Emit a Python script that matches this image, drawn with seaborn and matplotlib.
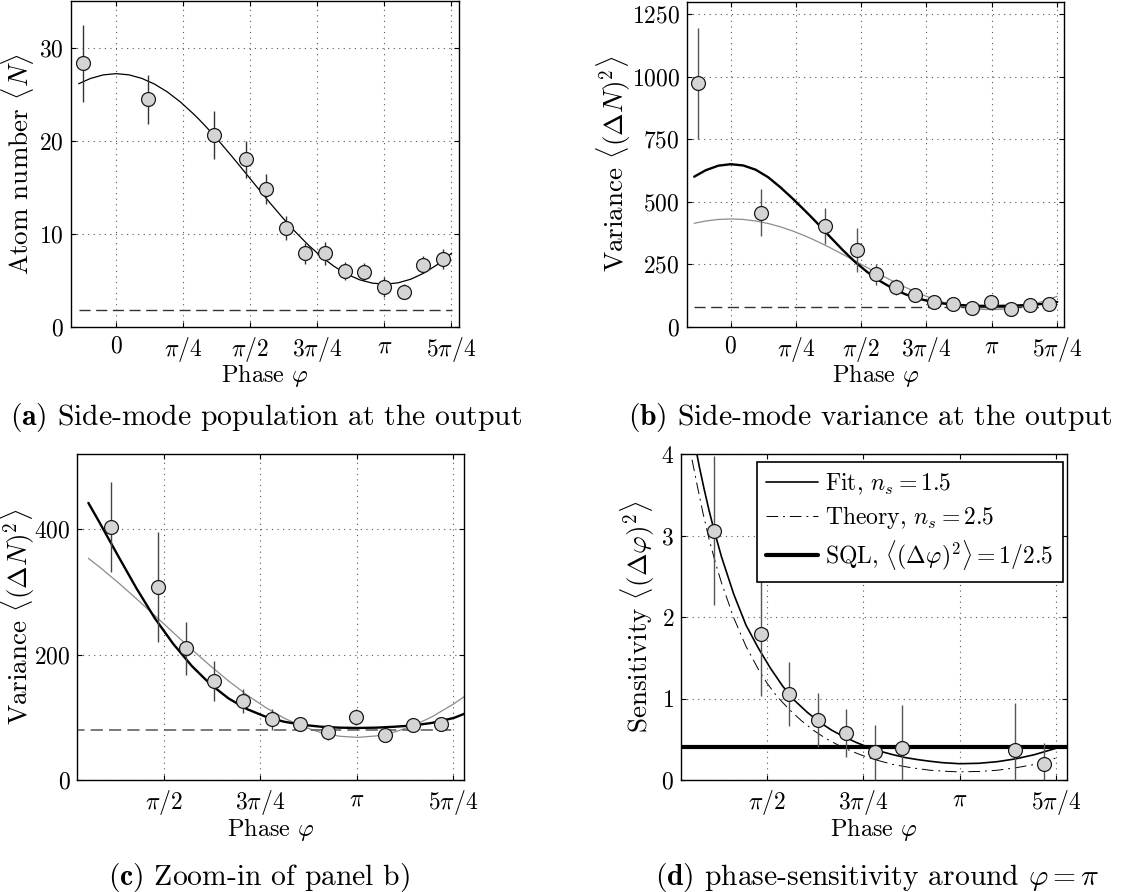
import numpy as np
import pandas as pd
import matplotlib
matplotlib.use("Agg")
import matplotlib.pyplot as plt
import seaborn as sns

# ---------------- data ----------------
PI = np.pi
phase = [-0.395, 0.37, 1.14, 1.522, 1.754, 1.984, 2.214, 2.449, 2.676, 2.908,
         3.137, 3.368, 3.597, 3.827]

atoms = [28.3, 24.45, 20.6, 18.0, 14.8, 10.6, 7.9, 7.9, 6.0, 5.9, 4.3, 3.8, 6.7, 7.3]
atoms_err = [4.1, 2.65, 2.6, 2.0, 1.6, 1.3, 1.1, 1.2, 0.95, 1.0, 1.1, 0.8, 0.95, 1.1]

variance = [973, 456, 403, 308, 210, 158, 126, 97, 89, 76, 100, 71, 88, 89]
variance_err = [221, 94, 72, 88, 42, 32, 19, 17, 11, 12, 13, 10.5, 11.5, 11]

sens_phase = [1.14, 1.522, 1.754, 1.984, 2.214, 2.449, 2.676, 3.597, 3.827]
sens = [3.06, 1.79, 1.055, 0.74, 0.577, 0.34, 0.39, 0.37, 0.20]
sens_err = [0.91, 0.76, 0.39, 0.33, 0.29, 0.34, 0.53, 0.58, 0.26]

# fitted / model curves
curve_phase = [-0.44, -0.3, -0.15, 0.0, 0.15, 0.3, 0.45, 0.6, 0.75, 0.9, 0.96, 1.05,
               1.2, 1.35, 1.5, 1.65, 1.8, 1.95, 2.1, 2.25, 2.4, 2.55, 2.7, 2.85,
               3.0, 3.15, 3.3, 3.45, 3.6, 3.75, 3.93, 4.02]
atoms_fit = [26.12, 26.69, 27.07, 27.20, 27.07, 26.69, 26.07, 25.23, 24.17, 22.92,
             22.38, 21.52, 19.99, 18.37, 16.70, 15.01, 13.33, 11.72, 10.20, 8.80,
             7.57, 6.52, 5.68, 5.07, 4.71, 4.60, 4.74, 5.13, 5.77, 6.63, 7.93, 8.6]
var_fit = [600, 626, 644, 650, 645, 628, 598, 557, 511, 462, 442, 411, 358, 306,
           258, 217, 182, 153, 130, 113, 101, 93, 88, 85, 83.5, 83, 83.5, 85, 87,
           91, 99, 106]
var_model = [413.7, 422.9, 429.0, 431.0, 429.0, 422.9, 412.9, 399.3, 382.3, 362.3,
             353.6, 339.8, 315.3, 289.2, 262.3, 235.1, 208.3, 182.3, 157.9, 135.5,
             115.7, 98.8, 85.4, 75.6, 69.8, 68.0, 70.3, 76.6, 86.7, 100.6, 121.5, 133.7]

sens_fit_phase = [0.98, 1.02, 1.06, 1.10, 1.137, 1.20, 1.30, 1.40, 1.50, 1.60, 1.70,
                  1.80, 1.90, 2.00, 2.10, 2.20, 2.30, 2.40, 2.50, 2.60, 2.70, 2.80,
                  2.90, 3.00, 3.14, 3.30, 3.45, 3.60, 3.75, 3.93]
sens_fit = [4.15, 3.84, 3.56, 3.30, 3.08, 2.74, 2.28, 1.90, 1.62, 1.37, 1.15, 0.97,
            0.83, 0.71, 0.61, 0.53, 0.46, 0.40, 0.35, 0.31, 0.275, 0.25, 0.23, 0.213,
            0.20, 0.205, 0.225, 0.26, 0.31, 0.39]
theory_phase = [0.96, 1.00, 1.05, 1.10, 1.15, 1.20, 1.30, 1.40, 1.50, 1.5708, 1.65,
                1.75, 1.85, 1.95, 2.05, 2.15, 2.25, 2.35, 2.45, 2.60, 2.75, 2.90,
                3.05, 3.14, 3.30, 3.45, 3.60, 3.75, 3.93]
sens_theory = [3.93, 3.63, 3.27, 2.95, 2.67, 2.42, 1.99, 1.64, 1.36, 1.19, 1.03, 0.87,
               0.73, 0.61, 0.51, 0.43, 0.36, 0.30, 0.25, 0.19, 0.15, 0.12, 0.105,
               0.10, 0.105, 0.12, 0.15, 0.19, 0.27]

noise_atoms = 1.86
noise_var = 80
sql_level = 1 / 2.5

tick_vals_wide = [0, PI / 4, PI / 2, 3 * PI / 4, PI, 5 * PI / 4]
tick_labels_wide = ["$0$", r"$\pi/4$", r"$\pi/2$", r"$3\pi/4$", r"$\pi$", r"$5\pi/4$"]
tick_vals_zoom = [PI / 2, 3 * PI / 4, PI, 5 * PI / 4]
tick_labels_zoom = [r"$\pi/2$", r"$3\pi/4$", r"$\pi$", r"$5\pi/4$"]

captions = [r"$\mathbf{(a)}$ Side-mode population at the output",
            r"$\mathbf{(b)}$ Side-mode variance at the output",
            r"$\mathbf{(c)}$ Zoom-in of panel b)",
            r"$\mathbf{(d)}$ phase-sensitivity around $\varphi = \pi$"]

# ---------------- style ----------------
sns.set_theme(style="ticks")
plt.rcParams.update({
    "font.family": ["cmr10"],
    "mathtext.fontset": "cm",
    "axes.formatter.use_mathtext": True,
    "axes.unicode_minus": False,
    "font.size": 17,
    "axes.labelsize": 17.5,
    "xtick.labelsize": 17,
    "ytick.labelsize": 17,
    "legend.fontsize": 17,
    "axes.linewidth": 1.0,
    "axes.edgecolor": "black",
    "xtick.direction": "in",
    "ytick.direction": "in",
    "xtick.top": True,
    "ytick.right": True,
    "xtick.major.size": 3.6,
    "ytick.major.size": 3.6,
    "xtick.major.width": 0.8,
    "ytick.major.width": 0.8,
    "xtick.color": "black",
    "ytick.color": "black",
    "text.color": "black",
    "axes.labelcolor": "black",
})

W, H = 1143, 892
fig = plt.figure(figsize=(W / 100, H / 100), dpi=100)


def px_axes(x0, y0, x1, y1):
    return fig.add_axes([x0 / W, 1 - y1 / H, (x1 - x0) / W, (y1 - y0) / H])


ax_a = px_axes(71, 1, 459, 327)
ax_b = px_axes(686.7, 1.7, 1064.3, 326.7)
ax_c = px_axes(77.3, 454, 464.3, 780)
ax_d = px_axes(681, 454, 1066.7, 780)

curve = pd.DataFrame({"phase": curve_phase, "atoms": atoms_fit,
                      "fit": var_fit, "model": var_model})
pts = pd.DataFrame({"phase": phase, "atoms": atoms, "atoms_err": atoms_err,
                    "var": variance, "var_err": variance_err})
sens_df = pd.DataFrame({"phase": sens_phase, "s": sens, "err": sens_err})
MK = dict(s=100, color="#d4d4d4", edgecolor="#1a1a1a", linewidth=0.9, zorder=5,
          legend=False)
GRID = dict(color="#555555", linestyle=(0, (1, 4)), linewidth=0.8)


def style(ax, xlim, ylim, xt, xl, yt, ylab, ylab_x, xlab_y):
    ax.set_xlim(*xlim)
    ax.set_ylim(*ylim)
    ax.set_xticks(xt)
    ax.set_xticklabels(xl)
    ax.set_yticks(yt)
    ax.set_yticklabels([f"${v:g}$" for v in yt])
    ax.grid(True, **GRID)
    ax.set_axisbelow(True)
    ax.set_ylabel(ylab, fontsize=19.5)
    ax.set_xlabel(r"Phase $\varphi$")
    ax.yaxis.set_label_coords(ylab_x, 0.5)
    ax.xaxis.set_label_coords(0.5, xlab_y)
    ax.tick_params(axis="x", pad=6)
    ax.tick_params(axis="y", pad=5)
    for s in ax.spines.values():
        s.set_visible(True)
        s.set_color("black")


x_end = curve_phase[-2]

# ---- (a)
ca = curve[curve.phase <= x_end]
sns.lineplot(data=ca, x="phase", y="atoms", ax=ax_a, color="black", lw=0.9,
             sort=False, estimator=None)
ax_a.hlines(noise_atoms, ca.phase.iloc[0], ca.phase.iloc[-1], colors="#333333",
            linestyles=(0, (8, 4)), lw=1.0)
ax_a.errorbar(pts.phase, pts.atoms, yerr=pts.atoms_err, fmt="none",
              ecolor="#333333", elinewidth=1.0, capsize=0, zorder=4)
sns.scatterplot(data=pts, x="phase", y="atoms", ax=ax_a, **MK)
style(ax_a, (-0.53, 4.015), (0, 35), tick_vals_wide, tick_labels_wide,
      [0, 10, 20, 30], r"Atom number $\langle N\rangle$", -0.090, -0.108)

# ---- (b)
cb = curve[curve.phase <= x_end]
sns.lineplot(data=cb, x="phase", y="model", ax=ax_b, color="#8c8c8c", lw=0.9,
             sort=False, estimator=None)
sns.lineplot(data=cb, x="phase", y="fit", ax=ax_b, color="black", lw=1.7,
             sort=False, estimator=None)
ax_b.hlines(noise_var, cb.phase.iloc[0], cb.phase.iloc[-1], colors="#333333",
            linestyles=(0, (8, 4)), lw=1.0)
ax_b.errorbar(pts.phase, pts["var"], yerr=pts.var_err, fmt="none",
              ecolor="#555555", elinewidth=1.0, capsize=0, zorder=4)
sns.scatterplot(data=pts, x="phase", y="var", ax=ax_b, **MK)
style(ax_b, (-0.53, 4.015), (0, 1300), tick_vals_wide, tick_labels_wide,
      [0, 250, 500, 750, 1000, 1250], r"Variance $\langle(\Delta N)^2\rangle$",
      -0.142, -0.108)

# ---- (c)
cc = curve[curve.phase >= 0.95]
pc = pts[pts.phase > 1.0]
sns.lineplot(data=cc, x="phase", y="model", ax=ax_c, color="#8c8c8c", lw=0.9,
             sort=False, estimator=None)
sns.lineplot(data=cc, x="phase", y="fit", ax=ax_c, color="black", lw=1.7,
             sort=False, estimator=None)
ax_c.hlines(noise_var, cb.phase.iloc[0], cb.phase.iloc[-1], colors="#555555",
            linestyles=(0, (8, 4)), lw=1.1)
ax_c.errorbar(pc.phase, pc["var"], yerr=pc.var_err, fmt="none",
              ecolor="#444444", elinewidth=1.0, capsize=0, zorder=4)
sns.scatterplot(data=pc, x="phase", y="var", ax=ax_c, **MK)
style(ax_c, (0.87, 4.015), (0, 520), tick_vals_zoom, tick_labels_zoom,
      [0, 200, 400], r"Variance $\langle(\Delta N)^2\rangle$", -0.104, -0.110)

# ---- (d)
sns.lineplot(x=sens_fit_phase, y=sens_fit, ax=ax_d, color="black", lw=1.2,
             sort=False, estimator=None)
h_fit = ax_d.lines[-1]
sns.lineplot(x=theory_phase, y=sens_theory, ax=ax_d, color="black", lw=0.7,
             sort=False, estimator=None)
h_th = ax_d.lines[-1]
h_th.set_dashes([12, 5, 2, 5])
h_sql = ax_d.axhline(sql_level, color="black", lw=3.0)
ax_d.errorbar(sens_df.phase, sens_df.s, yerr=sens_df.err, fmt="none",
              ecolor="#555555", elinewidth=1.0, capsize=0, zorder=4)
sns.scatterplot(data=sens_df, x="phase", y="s", ax=ax_d, **MK)
style(ax_d, (0.87, 4.015), (0, 4), tick_vals_zoom, tick_labels_zoom,
      [0, 1, 2, 3, 4], r"Sensitivity $\langle(\Delta\varphi)^2\rangle$", -0.063, -0.110)
leg = ax_d.legend([h_fit, h_th, h_sql],
                  [r"Fit, $n_s = 1.5$", r"Theory, $n_s = 2.5$",
                   r"SQL, $\langle(\Delta\varphi)^2\rangle = 1/2.5$"],
                  loc="upper right", bbox_to_anchor=(0.99, 0.975),
                  borderaxespad=0, frameon=True, fancybox=False, framealpha=1,
                  edgecolor="black", handlelength=2.2, handletextpad=0.3,
                  labelspacing=0.3, borderpad=0.4)
leg.get_frame().set_linewidth(1.2)

# ---- captions
for (cx, cy), txt in zip([(266, 418), (870, 418), (259, 877), (877, 877)], captions):
    fig.text(cx / W, 1 - cy / H, txt, ha="center", va="center", fontsize=21.3)

fig.savefig("out.png", dpi=100)
